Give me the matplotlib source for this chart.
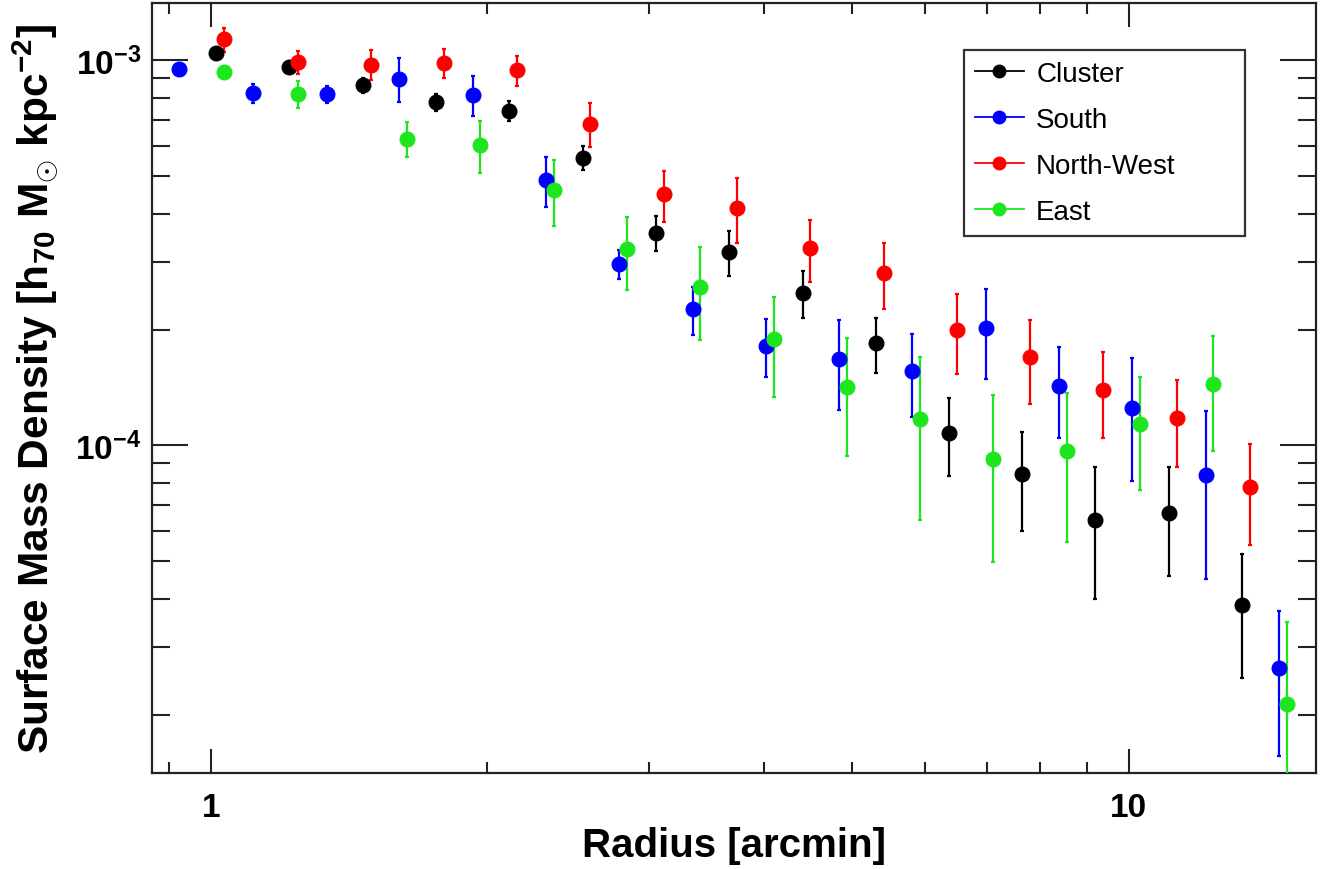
import numpy as np
import matplotlib
matplotlib.use("Agg")
import matplotlib.pyplot as plt
from matplotlib.lines import Line2D
from matplotlib.ticker import FixedLocator, NullFormatter

plt.rcParams['font.family'] = ['Liberation Sans', 'DejaVu Sans']
plt.rcParams['mathtext.fontset'] = 'custom'
plt.rcParams['mathtext.rm'] = 'Liberation Sans:bold'
plt.rcParams['mathtext.it'] = 'Liberation Sans:bold'
plt.rcParams['mathtext.bf'] = 'Liberation Sans:bold'

# radius [arcmin], density, error
cluster_r = [1.013, 1.216, 1.464, 1.759, 2.113, 2.541, 3.055, 3.672, 4.414,
             5.302, 6.372, 7.66, 9.197, 11.06, 13.29]
cluster_d = [1.047e-3, 9.59e-4, 8.61e-4, 7.80e-4, 7.39e-4, 5.58e-4, 3.57e-4,
             3.18e-4, 2.49e-4, 1.845e-4, 1.08e-4, 8.41e-5, 6.39e-5, 6.69e-5, 3.86e-5]
cluster_e = [2.0e-5, 2.5e-5, 3.7e-5, 4.0e-5, 4.4e-5, 4.0e-5, 3.7e-5,
             4.3e-5, 3.5e-5, 3.0e-5, 2.45e-5, 2.4e-5, 2.4e-5, 2.1e-5, 1.37e-5]

south_r = [0.9235, 1.112, 1.336, 1.604, 1.927, 2.315, 2.786, 3.349, 4.026,
           4.836, 5.809, 6.988, 8.388, 10.08, 12.13, 14.57]
south_d = [9.48e-4, 8.24e-4, 8.18e-4, 8.96e-4, 8.13e-4, 4.89e-4, 2.96e-4,
           2.26e-4, 1.818e-4, 1.68e-4, 1.563e-4, 2.02e-4, 1.423e-4, 1.248e-4,
           8.39e-5, 2.635e-5]
south_e = [1.5e-5, 4.7e-5, 4.1e-5, 1.18e-4, 9.7e-5, 7.2e-5, 2.5e-5,
           3.2e-5, 3.1e-5, 4.4e-5, 3.8e-5, 5.35e-5, 3.8e-5, 4.4e-5,
           3.9e-5, 1.07e-5]

nw_r = [1.034, 1.243, 1.492, 1.794, 2.156, 2.588, 3.117, 3.744, 4.50,
        5.405, 6.497, 7.805, 9.385, 11.28, 13.56]
nw_d = [1.134e-3, 9.90e-4, 9.76e-4, 9.86e-4, 9.42e-4, 6.85e-4, 4.49e-4,
        4.15e-4, 3.26e-4, 2.81e-4, 2.0e-4, 1.70e-4, 1.395e-4, 1.178e-4, 7.81e-5]
nw_e = [8.3e-5, 7.0e-5, 8.8e-5, 8.3e-5, 8.2e-5, 9.0e-5, 6.8e-5,
        8.0e-5, 6.0e-5, 5.5e-5, 4.7e-5, 4.2e-5, 3.5e-5, 3.0e-5, 2.3e-5]

east_r = [1.034, 1.243, 1.635, 1.965, 2.364, 2.842, 3.414, 4.108, 4.934,
          5.921, 7.122, 8.558, 10.29, 12.37, 14.87]
east_d = [9.36e-4, 8.18e-4, 6.26e-4, 6.04e-4, 4.61e-4, 3.23e-4, 2.58e-4,
          1.885e-4, 1.418e-4, 1.171e-4, 9.24e-5, 9.67e-5, 1.138e-4, 1.446e-4, 2.13e-5]
east_e = [1.5e-5, 6.4e-5, 6.5e-5, 9.3e-5, 9.0e-5, 7.0e-5, 7.0e-5,
          5.5e-5, 4.8e-5, 5.3e-5, 4.25e-5, 4.05e-5, 3.7e-5, 4.8e-5, 1.35e-5]

labels = ['Cluster', 'South', 'North-West', 'East']
colors = ['black', '#0000ff', '#ff0000', '#1ee61e']

fig = plt.figure(figsize=(13.34, 8.70), dpi=100)
ax = fig.add_axes([0.1139, 0.1103, 0.8726, 0.8851])

series = [(cluster_r, cluster_d, cluster_e), (south_r, south_d, south_e),
          (nw_r, nw_d, nw_e), (east_r, east_d, east_e)]
for (r, d, e), c in zip(series, colors):
    ax.errorbar(r, d, yerr=e, fmt='o', color=c, ms=10.5, elinewidth=1.6,
                capsize=1.5, capthick=1.6, zorder=3)

ax.set_xscale('log')
ax.set_yscale('log')
ax.set_xlim(0.862, 16.0)
ax.set_ylim(1.41e-5, 1.41e-3)

ax.xaxis.set_major_locator(FixedLocator([1, 10]))
ax.xaxis.set_minor_locator(FixedLocator([0.9, 2, 3, 4, 5, 6, 7, 8, 9]))
ax.set_xticklabels(['1', '10'])
ax.xaxis.set_minor_formatter(NullFormatter())
ax.yaxis.set_major_locator(FixedLocator([1e-4, 1e-3]))
ax.set_yticklabels(['10$^{-4}$', '10$^{-3}$'])
ax.yaxis.set_minor_formatter(NullFormatter())

ax.tick_params(axis='both', which='both', direction='in', top=True, right=True,
               width=1.5, colors='#222222')
ax.tick_params(axis='x', which='major', length=17, labelsize=24, pad=14)
ax.tick_params(axis='x', which='minor', length=8)
ax.tick_params(axis='y', which='major', length=26, labelsize=24, pad=8)
ax.tick_params(axis='y', which='minor', length=13)
for lab in ax.get_xticklabels() + ax.get_yticklabels():
    lab.set_fontweight('bold')
    lab.set_color('black')
for s in ax.spines.values():
    s.set_linewidth(1.6)
    s.set_color('#222222')

ax.set_xlabel('Radius [arcmin]', fontsize=29, fontweight='bold', labelpad=2)
ax.set_ylabel(r'Surface Mass Density [h$_{70}$ M$_{\odot}$ kpc$^{-2}$]',
              fontsize=30.5, fontweight='bold', labelpad=10)

handles = [Line2D([], [], color=c, marker='o', ms=9, lw=1.3) for c in colors]
leg = ax.legend(handles, labels, loc='upper left',
                bbox_to_anchor=(0.6976, 0.697, 0.2414, 0.242), mode='expand',
                fontsize=20, frameon=True, fancybox=False, handlelength=1.75,
                handletextpad=0.45, labelspacing=0.72, borderpad=0.4,
                borderaxespad=0)
leg.get_frame().set_edgecolor('black')
leg.get_frame().set_linewidth(1.6)

fig.savefig('out.png', dpi=100)
